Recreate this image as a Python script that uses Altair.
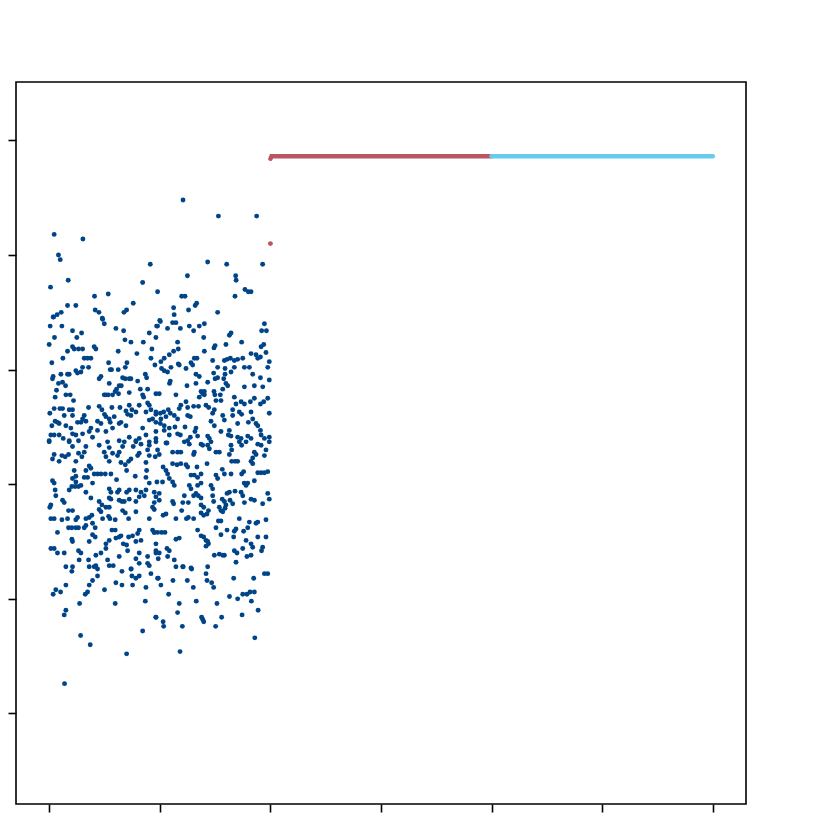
import altair as alt
import pandas as pd

# ---- data ----
x_ticks = [0, 1, 2, 3, 4, 5, 6]
y_ticks = [-2, -1, 0, 1, 2, 3]

blue_points = [
    # upper tail
    (0.045, 2.18), (0.305, 2.14), (0.084, 2.00), (0.10, 1.96), (0.914, 1.92), (0.172, 1.78), (0.012, 1.72),
    (0.845, 1.76), (0.98, 1.68), (0.41, 1.64), (0.534, 1.66), (0.166, 1.56), (0.241, 1.56), (0.416, 1.52),
    (0.45, 1.50), (0.76, 1.58), (0.70, 1.52), (0.676, 1.50), (0.04, 1.46), (0.072, 1.48), (0.109, 1.50), (0.48, 1.45),
    (1.21, 2.48), (1.53, 2.34), (1.876, 2.34), (1.433, 1.94), (1.605, 1.92), (1.93, 1.92), (1.25, 1.82),
    (1.686, 1.82), (1.69, 1.78), (1.77, 1.70), (1.80, 1.68), (1.825, 1.68), (1.198, 1.64), (1.228, 1.64),
    (1.68, 1.64), (1.333, 1.58), (1.32, 1.56), (1.125, 1.54), (1.26, 1.52), (1.523, 1.50), (1.13, 1.48), (1.00, 1.43),
    # upper core, left half
    (0.036, 1.46), (0.483, 1.44), (0.498, 1.40), (0.009, 1.38), (0.115, 1.38), (0.211, 1.34), (0.293, 1.32),
    (0.603, 1.36), (0.673, 1.34), (0.971, 1.38), (0.905, 1.32), (0.048, 1.28), (0.25, 1.28), (0.685, 1.26),
    (0.739, 1.24), (0.851, 1.24), (0.0, 1.22), (0.407, 1.20), (0.422, 1.18), (0.211, 1.20), (0.226, 1.18),
    (0.166, 1.16), (0.265, 1.18), (0.302, 1.18), (0.624, 1.16), (0.793, 1.14), (0.929, 1.18), (0.92, 1.10),
    (0.124, 1.10), (0.317, 1.10), (0.347, 1.10), (0.377, 1.10), (0.537, 1.06), (0.024, 1.06), (0.703, 1.06),
    (0.688, 1.02), (0.302, 1.02), (0.356, 1.02), (0.956, 1.04), (0.552, 1.00), (0.564, 1.00), (0.624, 1.00),
    (0.241, 0.99), (0.256, 0.97), (0.287, 0.98), (0.181, 0.96), (0.166, 0.96), (0.106, 0.96), (0.036, 0.94),
    (0.03, 0.92), (0.468, 0.94), (0.452, 0.92), (0.664, 0.93), (0.688, 0.92), (0.724, 0.92), (0.739, 0.92),
    (0.869, 0.96), (0.881, 0.93), (0.543, 0.88), (0.80, 0.90), (0.121, 0.89), (0.084, 0.88), (0.148, 0.86),
    (0.066, 0.82), (0.633, 0.86), (0.652, 0.86), (0.609, 0.83), (0.597, 0.81), (0.573, 0.78), (0.627, 0.79),
    (0.498, 0.78), (0.513, 0.78), (0.534, 0.78), (0.724, 0.80), (0.824, 0.83), (0.89, 0.83), (0.845, 0.78),
    (0.854, 0.76), (0.965, 0.79), (0.054, 0.76), (0.151, 0.78), (0.19, 0.78), (0.22, 0.73), (0.356, 0.67),
    (0.045, 0.66), (0.097, 0.66), (0.121, 0.66), (0.181, 0.65), (0.211, 0.65), (0.452, 0.68), (0.477, 0.65),
    (0.50, 0.61), (0.567, 0.67), (0.64, 0.67), (0.724, 0.69), (0.748, 0.65), (0.814, 0.69), (0.89, 0.71),
    (0.905, 0.69), (0.92, 0.65), (0.965, 0.63), (0.006, 0.62), (0.694, 0.64), (0.784, 0.63), (0.875, 0.63),
    (0.739, 0.60), (0.709, 0.61), (0.136, 0.60), (0.211, 0.60), (0.317, 0.60), (0.302, 0.57), (0.513, 0.59),
    (0.543, 0.57), (0.588, 0.59), (0.054, 0.55), (0.075, 0.54), (0.09, 0.53), (0.256, 0.54), (0.287, 0.54),
    (0.332, 0.55), (0.437, 0.55), (0.468, 0.53), (0.552, 0.54), (0.633, 0.53), (0.649, 0.54), (0.905, 0.56),
    (0.935, 0.57), (0.024, 0.51), (0.151, 0.51), (0.196, 0.49), (0.377, 0.49), (0.362, 0.46), (0.437, 0.47),
    (0.573, 0.49), (0.694, 0.51), (0.845, 0.49), (0.875, 0.43), (0.015, 0.43), (0.045, 0.43), (0.09, 0.43),
    (0.127, 0.40), (0.211, 0.44), (0.241, 0.43), (0.302, 0.44), (0.392, 0.41), (0.513, 0.46), (0.724, 0.41),
    (0.814, 0.40), (0.0, 0.38), (0.181, 0.38), (0.633, 0.38), (0.784, 0.38), (0.905, 0.37), (0.965, 0.40),
    # upper core, right half
    (1.005, 1.42), (1.116, 1.41), (1.146, 1.41), (0.98, 1.38), (1.07, 1.36), (1.186, 1.36), (1.267, 1.38),
    (1.306, 1.34), (1.357, 1.38), (1.403, 1.40), (1.946, 1.40), (1.921, 1.34), (1.964, 1.34), (1.629, 1.30),
    (1.644, 1.32), (1.397, 1.28), (1.161, 1.24), (0.965, 1.28), (1.50, 1.21), (1.49, 1.19), (1.598, 1.22),
    (1.74, 1.24), (1.916, 1.20), (1.94, 1.22), (1.125, 1.16), (1.167, 1.18), (1.403, 1.16), (1.825, 1.14),
    (1.886, 1.10), (1.87, 1.13), (1.91, 1.11), (1.96, 1.15), (1.04, 1.10), (1.086, 1.13), (1.01, 1.07),
    (1.312, 1.10), (1.336, 1.10), (1.478, 1.08), (1.584, 1.08), (1.608, 1.09), (1.638, 1.10), (1.674, 1.08),
    (1.704, 1.09), (1.75, 1.10), (1.99, 1.07), (1.167, 1.05), (1.176, 1.04), (1.282, 1.06), (1.297, 1.04),
    (1.523, 1.02), (1.59, 1.01), (1.674, 1.02), (1.765, 1.02), (1.81, 1.02), (1.101, 1.02), (1.016, 1.01),
    (1.04, 0.99), (1.237, 1.01), (1.976, 1.02), (1.327, 0.96), (1.357, 0.94), (1.487, 0.97), (1.59, 0.96),
    (1.644, 0.98), (1.84, 0.96), (1.07, 0.98), (1.50, 0.92), (1.523, 0.93), (1.578, 0.92), (1.91, 0.93),
    (1.99, 0.91), (1.095, 0.90), (1.088, 0.88), (1.246, 0.86), (1.327, 0.88), (1.433, 0.89), (1.598, 0.88),
    (1.614, 0.86), (1.403, 0.81), (1.388, 0.79), (1.373, 0.81), (1.357, 0.76), (1.403, 0.78), (1.49, 0.81),
    (1.498, 0.78), (1.569, 0.83), (1.547, 0.78), (1.553, 0.73), (1.674, 0.76), (1.765, 0.85), (1.855, 0.86),
    (1.931, 0.85), (0.995, 0.79), (1.146, 0.78), (1.237, 0.72), (1.19, 0.69), (1.176, 0.66), (1.252, 0.67),
    (1.306, 0.68), (1.35, 0.68), (1.418, 0.69), (1.442, 0.67), (1.508, 0.73), (1.689, 0.70), (1.735, 0.72),
    (1.765, 0.70), (1.819, 0.72), (1.855, 0.75), (1.91, 0.70), (1.94, 0.72), (1.976, 0.75), (0.965, 0.61),
    (1.005, 0.62), (1.035, 0.63), (1.077, 0.65), (1.095, 0.62), (1.01, 0.57), (1.056, 0.59), (0.965, 0.54),
    (1.005, 0.53), (1.04, 0.51), (1.131, 0.60), (1.161, 0.57), (1.252, 0.60), (1.276, 0.59), (1.493, 0.65),
    (1.478, 0.62), (1.463, 0.55), (1.569, 0.60), (1.584, 0.56), (1.659, 0.65), (1.659, 0.60), (1.719, 0.63),
    (1.74, 0.61), (1.825, 0.63), (1.84, 0.57), (1.99, 0.62), (1.086, 0.49), (1.04, 0.47), (1.137, 0.50),
    (1.228, 0.50), (1.327, 0.49), (1.318, 0.46), (1.493, 0.51), (1.553, 0.46), (1.704, 0.53), (1.801, 0.54),
    (1.87, 0.53), (1.886, 0.51), (1.91, 0.47), (0.965, 0.46), (1.086, 0.43), (1.161, 0.44), (1.186, 0.43),
    (1.276, 0.41), (1.252, 0.38), (1.342, 0.42), (1.433, 0.42), (1.448, 0.40), (1.629, 0.47), (1.62, 0.43),
    (1.644, 0.42), (1.704, 0.41), (1.735, 0.40), (1.795, 0.42), (1.825, 0.40), (1.916, 0.43), (1.946, 0.40),
    (1.99, 0.41), (1.056, 0.36), (1.373, 0.35), (1.886, 0.35),
    # lower core, left half
    (0.0, 0.37), (0.181, 0.37), (0.211, 0.33), (0.265, 0.38), (0.332, 0.33), (0.452, 0.34), (0.528, 0.37),
    (0.543, 0.32), (0.664, 0.33), (0.679, 0.37), (0.784, 0.37), (0.76, 0.33), (0.83, 0.35), (0.905, 0.34),
    (0.965, 0.37), (0.045, 0.26), (0.03, 0.22), (0.115, 0.25), (0.145, 0.24), (0.175, 0.26), (0.09, 0.20),
    (0.265, 0.27), (0.296, 0.24), (0.317, 0.28), (0.241, 0.20), (0.498, 0.28), (0.513, 0.24), (0.543, 0.20),
    (0.573, 0.27), (0.618, 0.25), (0.633, 0.28), (0.649, 0.19), (0.688, 0.17), (0.739, 0.22), (0.718, 0.20),
    (0.80, 0.25), (0.814, 0.27), (0.89, 0.30), (0.905, 0.25), (0.875, 0.19), (0.959, 0.24), (0.362, 0.16),
    (0.377, 0.14), (0.332, 0.12), (0.226, 0.12), (0.241, 0.07), (0.211, 0.05), (0.407, 0.09), (0.437, 0.09),
    (0.468, 0.09), (0.507, 0.09), (0.317, 0.06), (0.347, 0.06), (0.558, 0.09), (0.609, 0.04), (0.70, 0.12),
    (0.778, 0.07), (0.881, 0.12), (0.875, 0.06), (0.03, 0.03), (0.045, 0.01), (0.241, 0.02), (0.235, -0.02),
    (0.181, -0.05), (0.205, -0.02), (0.054, -0.05), (0.06, -0.10), (0.265, -0.02), (0.287, -0.01),
    (0.392, 0.01), (0.332, -0.07), (0.377, -0.12), (0.543, -0.04), (0.558, -0.07), (0.618, -0.07),
    (0.633, -0.05), (0.70, -0.07), (0.724, -0.05), (0.784, -0.05), (0.83, -0.07), (0.875, -0.05),
    (0.86, -0.10), (0.905, 0.01), (0.95, -0.07), (0.965, -0.11), (0.121, -0.14), (0.136, -0.16),
    (0.452, -0.15), (0.477, -0.18), (0.543, -0.12), (0.558, -0.13), (0.633, -0.14), (0.658, -0.15),
    (0.679, -0.15), (0.724, -0.13), (0.784, -0.15), (0.814, -0.11), (0.95, -0.16), (0.935, -0.20),
    (0.015, -0.18), (0.006, -0.20), (0.452, -0.22), (0.468, -0.24), (0.513, -0.20), (0.543, -0.20),
    (0.175, -0.23), (0.211, -0.23), (0.664, -0.23), (0.688, -0.25), (0.784, -0.24), (0.015, -0.30),
    (0.045, -0.30), (0.115, -0.31), (0.166, -0.30), (0.241, -0.31), (0.256, -0.29), (0.332, -0.30),
    (0.362, -0.29), (0.386, -0.27), (0.483, -0.30), (0.537, -0.28), (0.549, -0.30), (0.597, -0.31),
    (0.718, -0.30), (0.905, -0.30), (0.075, -0.42), (0.175, -0.38), (0.205, -0.38), (0.241, -0.38),
    (0.265, -0.38), (0.317, -0.38), (0.332, -0.36), (0.392, -0.34), (0.416, -0.38), (0.567, -0.40),
    (0.597, -0.40), (0.814, -0.40), (0.935, -0.40), (0.95, -0.42), (0.392, -0.44), (0.416, -0.46),
    (0.603, -0.47), (0.633, -0.46), (0.649, -0.45), (0.718, -0.46), (0.754, -0.45), (0.80, -0.43),
    (0.205, -0.48), (0.211, -0.50), (0.362, -0.50), (0.513, -0.52), (0.543, -0.49), (0.67, -0.52),
    (0.70, -0.53), (0.784, -0.50), (0.83, -0.49), (0.965, -0.52), (0.015, -0.56), (0.045, -0.56),
    (0.136, -0.60), (0.075, -0.60), (0.265, -0.58), (0.287, -0.60), (0.468, -0.60), (0.513, -0.56),
    (0.633, -0.63), (0.709, -0.58), (0.814, -0.60), (0.784, -0.65), (0.89, -0.63), (0.965, -0.60),
    (0.271, -0.66), (0.356, -0.66), (0.422, -0.62), (0.528, -0.66), (0.151, -0.72), (0.211, -0.72),
    (0.362, -0.72), (0.407, -0.72), (0.437, -0.74), (0.543, -0.71), (0.739, -0.74), (0.814, -0.69),
    (0.89, -0.69),
    # lower core, right half
    (1.065, 0.36), (1.222, 0.37), (1.267, 0.35), (1.388, 0.34), (1.433, 0.34), (1.463, 0.37), (1.448, 0.31),
    (1.644, 0.34), (1.719, 0.37), (1.74, 0.34), (1.78, 0.37), (1.916, 0.34), (1.99, 0.37), (0.98, 0.30),
    (0.995, 0.26), (1.116, 0.28), (1.161, 0.28), (1.19, 0.28), (1.312, 0.28), (1.306, 0.26), (1.508, 0.28),
    (1.538, 0.28), (1.629, 0.26), (1.65, 0.30), (1.855, 0.28), (1.87, 0.26), (1.84, 0.23), (1.96, 0.30),
    (1.946, 0.25), (1.03, 0.15), (1.056, 0.12), (1.071, 0.09), (1.116, 0.18), (1.156, 0.17), (1.19, 0.18),
    (1.237, 0.17), (1.252, 0.15), (1.336, 0.15), (1.427, 0.18), (1.65, 0.20), (1.68, 0.20), (1.704, 0.20),
    (1.758, 0.11), (1.74, 0.09), (1.825, 0.20), (1.84, 0.18), (1.886, 0.10), (1.916, 0.10), (1.946, 0.10),
    (1.976, 0.11), (1.086, 0.05), (1.116, 0.02), (1.131, -0.01), (0.974, 0.02), (1.025, 0.02), (1.282, 0.08),
    (1.312, 0.08), (1.342, 0.06), (1.373, 0.09), (1.508, 0.08), (1.523, 0.05), (1.565, 0.13), (1.584, 0.09),
    (1.644, 0.09), (1.763, 0.01), (1.78, -0.01), (1.795, 0.01), (1.855, 0.03), (1.267, -0.01), (1.282, -0.04),
    (1.342, -0.01), (1.373, 0.01), (1.463, -0.01), (1.478, -0.04), (1.629, -0.07), (1.608, -0.08),
    (1.68, -0.06), (1.735, -0.07), (1.75, -0.10), (1.976, -0.08), (1.99, -0.13), (0.995, -0.08),
    (0.995, -0.14), (1.116, -0.15), (1.125, -0.17), (1.208, -0.16), (1.222, -0.10), (1.258, -0.16),
    (1.306, -0.10), (1.327, -0.08), (1.348, -0.10), (1.373, -0.12), (1.478, -0.10), (1.487, -0.15),
    (1.565, -0.13), (1.584, -0.15), (1.635, -0.14), (1.659, -0.17), (1.765, -0.16), (1.825, -0.13),
    (1.855, -0.14), (1.93, -0.17), (0.95, -0.22), (1.03, -0.27), (1.056, -0.26), (1.198, -0.23),
    (1.373, -0.18), (1.397, -0.20), (1.44, -0.23), (1.538, -0.20), (1.553, -0.23), (1.569, -0.24),
    (1.598, -0.18), (1.59, -0.21), (1.241, -0.30), (1.258, -0.29), (1.306, -0.30), (1.146, -0.30),
    (1.373, -0.25), (1.397, -0.27), (1.427, -0.26), (1.53, -0.32), (1.553, -0.32), (1.719, -0.30),
    (1.81, -0.33), (1.87, -0.34), (1.886, -0.33), (1.96, -0.31), (0.95, -0.42), (0.98, -0.42),
    (1.016, -0.42), (1.047, -0.42), (1.342, -0.40), (1.508, -0.38), (1.608, -0.40), (1.674, -0.41),
    (1.689, -0.39), (1.758, -0.41), (1.795, -0.38), (1.146, -0.48), (1.176, -0.47), (1.373, -0.45),
    (1.397, -0.46), (1.418, -0.49), (1.433, -0.50), (1.553, -0.44), (1.668, -0.46), (1.78, -0.49),
    (1.886, -0.46), (1.96, -0.46), (0.965, -0.58), (0.995, -0.60), (0.986, -0.65), (1.065, -0.56),
    (1.086, -0.58), (1.418, -0.54), (1.44, -0.52), (1.493, -0.62), (1.538, -0.61), (1.569, -0.62),
    (1.584, -0.62), (1.674, -0.58), (1.698, -0.60), (1.75, -0.56), (1.825, -0.52), (1.84, -0.55),
    (1.92, -0.58), (1.93, -0.55), (1.788, -0.63), (1.825, -0.62), (1.071, -0.63), (1.131, -0.66),
    (1.146, -0.72), (1.207, -0.72), (1.282, -0.73), (1.689, -0.68), (1.433, -0.72),
    # lower tail
    (0.205, -0.76), (0.422, -0.71), (0.579, -0.71), (0.658, -0.76), (0.742, -0.74), (0.905, -0.71),
    (0.92, -0.78), (0.748, -0.80), (0.784, -0.82), (0.814, -0.80), (0.437, -0.80), (0.392, -0.84),
    (0.603, -0.86), (0.658, -0.88), (0.754, -0.88), (0.98, -0.82), (0.875, -0.90), (0.151, -0.88),
    (0.362, -0.88), (0.06, -0.92), (0.036, -0.96), (0.103, -0.94), (0.326, -0.96), (0.347, -0.94),
    (0.50, -0.92), (0.275, -1.04), (0.597, -1.04), (0.151, -1.10), (0.136, -1.14), (0.869, -1.02),
    (0.965, -1.16), (0.845, -1.28), (0.284, -1.32), (0.371, -1.40), (0.70, -1.48), (0.139, -1.74),
    (1.212, -0.72), (1.288, -0.74), (1.418, -0.78), (0.986, -0.82), (1.01, -0.88), (1.119, -0.84),
    (1.249, -0.84), (1.303, -0.90), (1.427, -0.84), (1.469, -0.86), (1.487, -0.90), (1.668, -0.82),
    (1.849, -0.82), (1.946, -0.78), (1.976, -0.78), (1.08, -0.96), (1.33, -1.02), (1.176, -1.04),
    (1.161, -1.12), (1.517, -1.04), (1.63, -0.98), (1.704, -1.00), (1.75, -0.96), (1.788, -0.96),
    (1.816, -0.94), (1.855, -0.94), (1.828, -1.02), (1.889, -1.10), (1.744, -1.14), (0.965, -1.16),
    (1.03, -1.20), (1.035, -1.24), (1.204, -1.24), (1.378, -1.16), (1.388, -1.18), (1.397, -1.20),
    (1.559, -1.16), (1.505, -1.24), (1.859, -1.34), (1.183, -1.46),
]

red_dot_x = [2.0]
red_dot_y = [2.10]

red_line_x = [2.0, 2.01, 4.0]
red_line_y = [2.84, 2.862, 2.862]

cyan_line_x = [4.0, 6.0]
cyan_line_y = [2.862, 2.862]

# ---- tables ----
df_blue = pd.DataFrame(blue_points, columns=["x", "y"])
df_red_dot = pd.DataFrame({"x": red_dot_x, "y": red_dot_y})
df_red_line = pd.DataFrame({"x": red_line_x, "y": red_line_y})
df_cyan_line = pd.DataFrame({"x": cyan_line_x, "y": cyan_line_y})

x_scale = alt.Scale(domain=[-0.3, 6.3], nice=False, zero=False)
y_scale = alt.Scale(domain=[-2.79, 3.51], nice=False, zero=False)

x_axis = alt.Axis(values=x_ticks, labels=False, title="", domain=False, grid=False,
                  tickSize=8, tickColor="black", tickWidth=1.6)
y_axis = alt.Axis(values=y_ticks, labels=False, title="", domain=False, grid=False,
                  tickSize=8, tickColor="black", tickWidth=1.6)

scatter = alt.Chart(df_blue).mark_circle(size=24, color="#004488", opacity=1).encode(
    x=alt.X("x:Q", scale=x_scale, axis=x_axis),
    y=alt.Y("y:Q", scale=y_scale, axis=y_axis),
)

red_dot = alt.Chart(df_red_dot).mark_circle(size=24, color="#BB5566", opacity=1).encode(
    x=alt.X("x:Q", scale=x_scale),
    y=alt.Y("y:Q", scale=y_scale),
)

red_line = alt.Chart(df_red_line).mark_line(color="#BB5566", strokeWidth=4.5, strokeCap="round").encode(
    x=alt.X("x:Q", scale=x_scale),
    y=alt.Y("y:Q", scale=y_scale),
)

cyan_line = alt.Chart(df_cyan_line).mark_line(color="#66CCEE", strokeWidth=4.5, strokeCap="round").encode(
    x=alt.X("x:Q", scale=x_scale),
    y=alt.Y("y:Q", scale=y_scale),
)

chart = alt.layer(scatter, red_dot, red_line, cyan_line).properties(
    width=730,
    height=722,
    autosize=alt.AutoSizeParams(type="none"),
    padding={"left": 8, "top": 74, "right": 20, "bottom": 20},
).configure_view(stroke="black", strokeWidth=1.6)

chart.save("out.html", embed_options={"renderer": "svg", "actions": False})
